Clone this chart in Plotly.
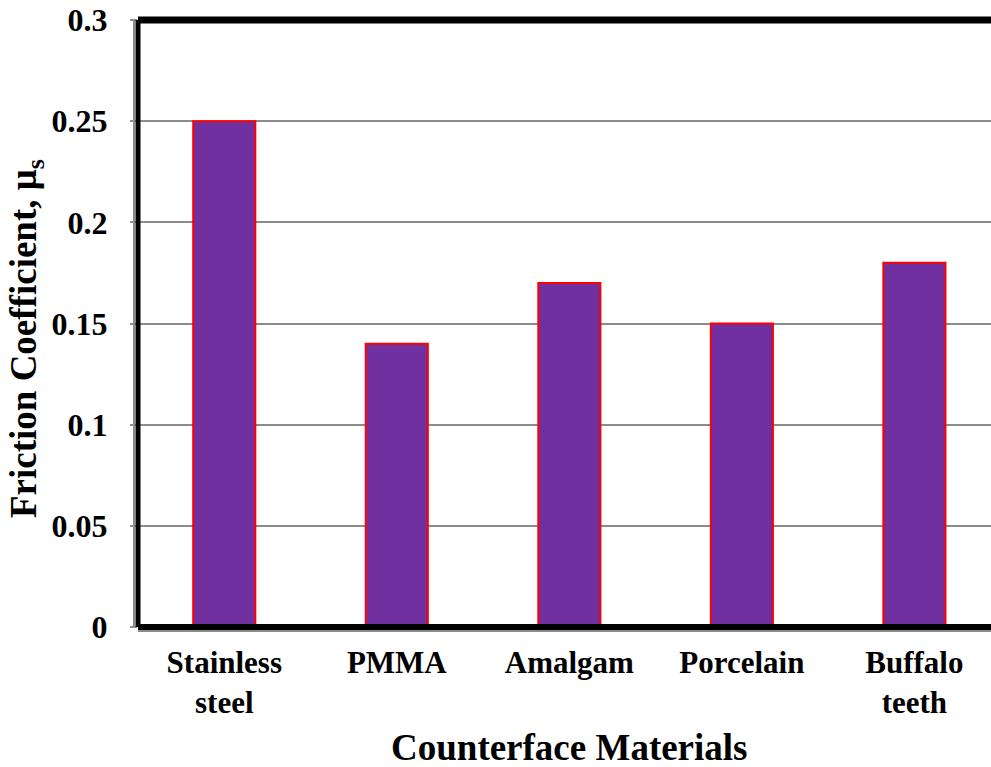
import plotly.graph_objects as go

# Static friction coefficient against different counterface materials
materials = ["Stainless<br>steel", "PMMA", "Amalgam", "Porcelain", "Buffalo<br>teeth"]
friction = [0.25, 0.14, 0.17, 0.15, 0.18]
y_ticks = [0, 0.05, 0.1, 0.15, 0.2, 0.25, 0.3]
y_tick_text = ["0", "0.05", "0.1", "0.15", "0.2", "0.25", "0.3"]

FONT = "Liberation Serif, Times New Roman, serif"

fig = go.Figure(
    go.Bar(
        x=materials,
        y=friction,
        marker=dict(color="#7030A0", line=dict(color="#FF0000", width=2)),
        hoverinfo="x+y",
    )
)

fig.update_layout(
    width=991,
    height=767,
    margin=dict(l=138, r=0, t=20, b=140),
    paper_bgcolor="white",
    plot_bgcolor="white",
    bargap=0.64,
    showlegend=False,
    font=dict(family=FONT, color="black"),
)

fig.update_xaxes(
    range=[-0.5, 4.444],
    showgrid=False,
    showline=False,
    ticks="",
    tickfont=dict(family=FONT, size=31, weight="bold", color="black"),
    ticklabelstandoff=14,
)

fig.update_yaxes(
    range=[0, 0.3],
    tickvals=y_ticks,
    ticktext=y_tick_text,
    showgrid=True,
    gridcolor="#8C8C8C",
    gridwidth=2,
    zeroline=False,
    showline=False,
    ticks="outside",
    ticklen=7,
    tickwidth=2,
    tickcolor="#8C8C8C",
    tickfont=dict(family=FONT, size=32, weight="bold", color="black"),
    ticklabelstandoff=16,
)

# Frame: heavy black top border, left and bottom axes with a grey edge
frame = [
    dict(x0=0, x1=1, y0=1, y1=1, color="black", width=7),
    dict(x0=0, x1=1, y0=0, y1=0, color="black", width=6),
    dict(x0=0, x1=0, y0=0, y1=1, color="black", width=5),
]
for f in frame:
    fig.add_shape(
        type="line", xref="paper", yref="paper",
        x0=f["x0"], x1=f["x1"], y0=f["y0"], y1=f["y1"],
        line=dict(color=f["color"], width=f["width"]), layer="above",
    )
# grey edge lines beside the left and bottom axes
fig.add_shape(
    type="line", xref="paper", yref="paper", xsizemode="pixel", xanchor=0,
    x0=-4, x1=-4, y0=0, y1=1, line=dict(color="#8C8C8C", width=2), layer="above",
)
fig.add_shape(
    type="line", xref="paper", yref="paper", ysizemode="pixel", yanchor=0,
    x0=0, x1=1, y0=-4, y1=-4, line=dict(color="#8C8C8C", width=2), layer="above",
)

# Axis titles
fig.add_annotation(
    text="Counterface Materials",
    xref="x", x=2, yref="paper", y=0, yanchor="top", yshift=-98,
    showarrow=False,
    font=dict(family=FONT, size=37, weight="bold", color="black"),
)
fig.add_annotation(
    text="Friction Coefficient, μ<sub>s</sub>",
    xref="paper", x=-138 / 853, xanchor="left", xshift=1,
    yref="paper", y=0.5, yshift=-15,
    textangle=-90, showarrow=False,
    font=dict(family=FONT, size=37, weight="bold", color="black"),
)

fig.write_html("out.html")
